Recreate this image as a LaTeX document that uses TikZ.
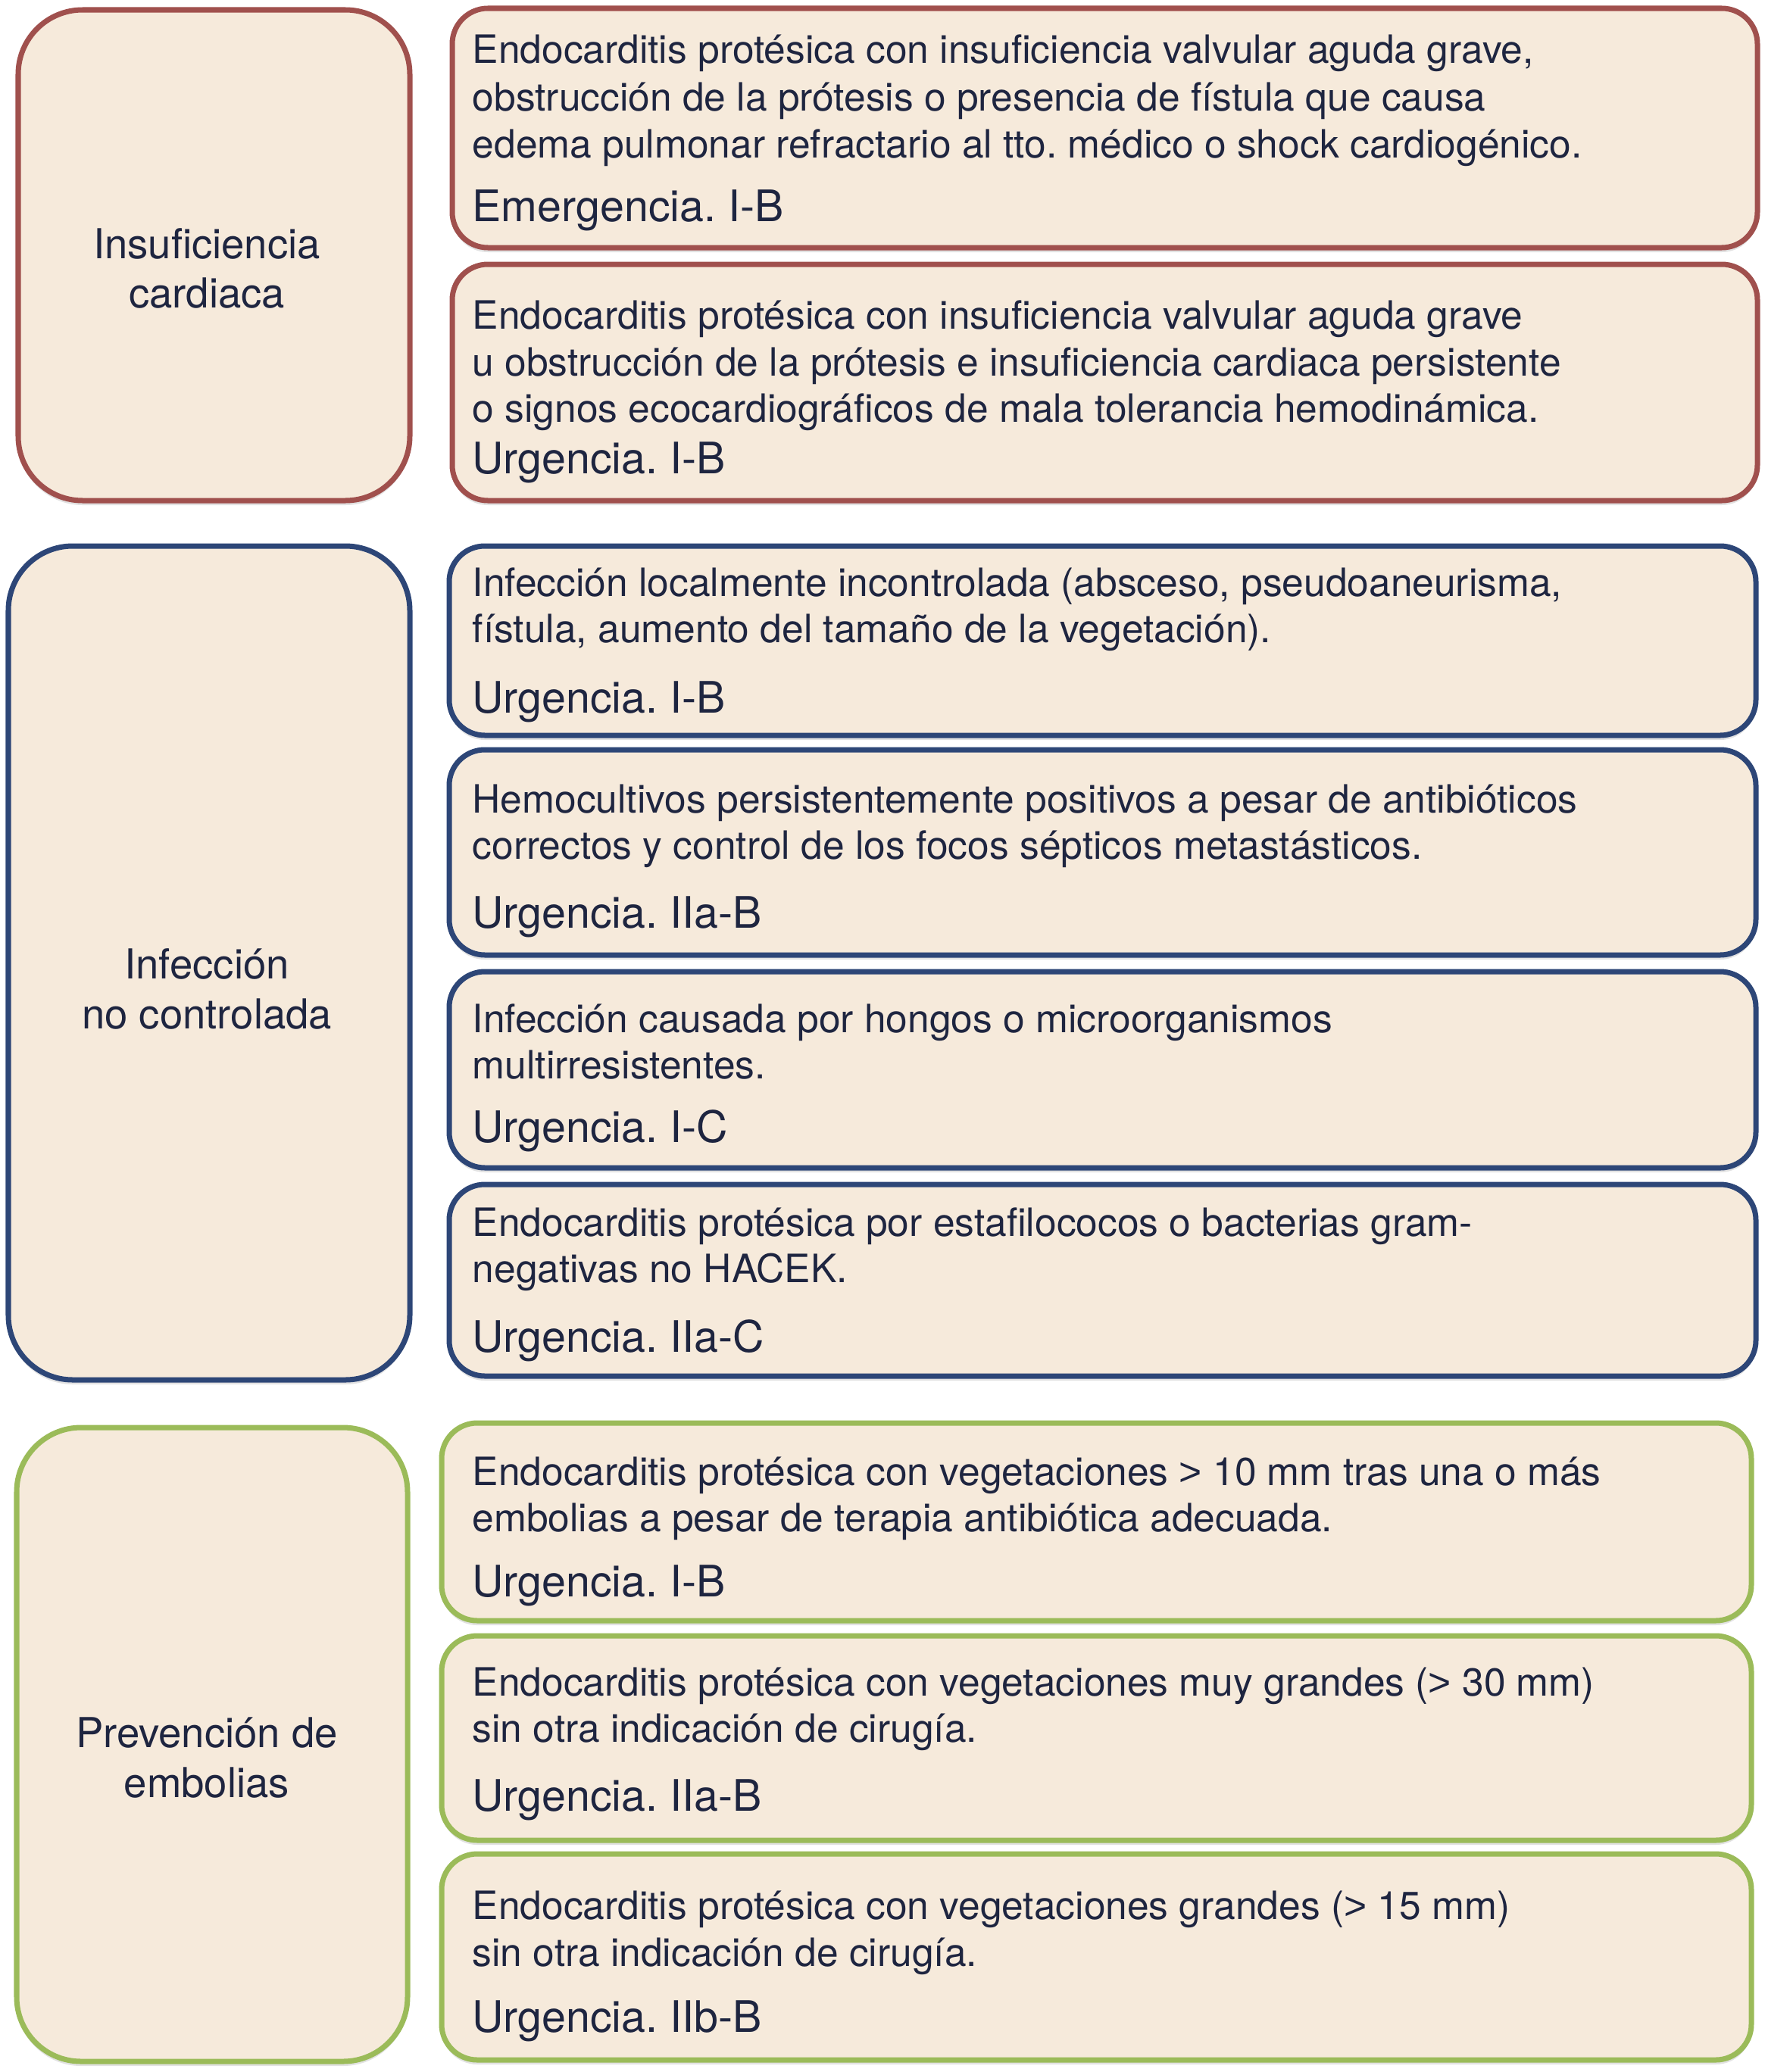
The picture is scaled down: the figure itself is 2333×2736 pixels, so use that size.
\documentclass[tikz,border=0pt]{standalone}
\usepackage{fontspec}
\setmainfont{TeX Gyre Heros}
\newfontfamily\gtfont{Liberation Sans}
\newcommand{\gtsym}{{\gtfont >}}
\usetikzlibrary{shadows,fit}
\definecolor{boxfill}{HTML}{F6EADB}
\definecolor{redc}{HTML}{A0504D}
\definecolor{bluec}{HTML}{2D4677}
\definecolor{greenc}{HTML}{9BBB59}
\definecolor{textc}{HTML}{1E2540}
\tikzset{
  basebox/.style={draw, line width=0.07cm, fill=boxfill, inner sep=0pt, outer sep=0pt,
    drop shadow={shadow xshift=0cm, shadow yshift=-0.06cm, opacity=0.25, fill=black!45}},
  catbox/.style={basebox, rounded corners=0.85cm},
  itembox/.style={basebox, rounded corners=0.47cm},
  bodytxt/.style={anchor=base west, inner sep=0pt, text=textc, font=\fontsize{14.65}{17}\selectfont},
  gradetxt/.style={anchor=base west, inner sep=0pt, text=textc, font=\fontsize{16.3}{19}\selectfont},
  cattxt/.style={anchor=base, inner sep=0pt, text=textc, font=\fontsize{15.5}{18}\selectfont},
}
\begin{document}
\frenchspacing
\begin{tikzpicture}[x=0.01cm,y=-0.01cm]
\useasboundingbox[fill=white] (0,0) rectangle (2333,2736);

% ---------- Insuficiencia cardiaca ----------
\node[catbox, draw=redc, fit={(24,13) (541,661)}] (L1) {};
\node[cattxt] (L1a) at (273,341) {Insuficiencia};
\node[cattxt] (L1b) at (273,406) {cardiaca};

\node[itembox, draw=redc, fit={(597,11) (2320,327)}] (R1) {};
\node[bodytxt] (R1a) at (623,83) {Endocarditis protésica con insuficiencia valvular aguda grave,};
\node[bodytxt] (R1b) at (623,146) {obstrucción de la prótesis o presencia de fístula que causa};
\node[bodytxt] (R1c) at (623,208) {edema pulmonar refractario al tto. médico o shock cardiogénico.};
\node[gradetxt] (R1d) at (623,292) {Emergencia. I-B};

\node[itembox, draw=redc, fit={(597,349) (2320,661)}] (R2) {};
\node[bodytxt] (R2a) at (623,434) {Endocarditis protésica con insuficiencia valvular aguda grave};
\node[bodytxt] (R2b) at (623,496) {u obstrucción de la prótesis e insuficiencia cardiaca persistente};
\node[bodytxt] (R2c) at (623,557) {o signos ecocardiográficos de mala tolerancia hemodinámica.};
\node[gradetxt] (R2d) at (623,625) {Urgencia. I-B};

% ---------- Infección no controlada ----------
\node[catbox, draw=bluec, fit={(11,721) (541,1822)}] (L2) {};
\node[cattxt] (L2a) at (273,1292) {Infección};
\node[cattxt] (L2b) at (273,1358) {no controlada};

\node[itembox, draw=bluec, fit={(593,721) (2318,971)}] (B1) {};
\node[bodytxt] (B1a) at (623,787) {Infección localmente incontrolada (absceso, pseudoaneurisma,};
\node[bodytxt] (B1b) at (623,848) {fístula, aumento del tamaño de la vegetación).};
\node[gradetxt] (B1c) at (623,941) {Urgencia. I-B};

\node[itembox, draw=bluec, fit={(593,990) (2318,1261)}] (B2) {};
\node[bodytxt] (B2a) at (623,1073) {Hemocultivos persistentemente positivos a pesar de antibióticos};
\node[bodytxt] (B2b) at (623,1134) {correctos y control de los focos sépticos metastásticos.};
\node[gradetxt] (B2c) at (623,1225) {Urgencia. IIa-B};

\node[itembox, draw=bluec, fit={(593,1283) (2318,1542)}] (B3) {};
\node[bodytxt] (B3a) at (623,1363) {Infección causada por hongos o microorganismos};
\node[bodytxt] (B3b) at (623,1424) {multirresistentes.};
\node[gradetxt] (B3c) at (623,1508) {Urgencia. I-C};

\node[itembox, draw=bluec, fit={(593,1564) (2318,1817)}] (B4) {};
\node[bodytxt] (B4a) at (623,1632) {Endocarditis protésica por estafilococos o bacterias gram-};
\node[bodytxt] (B4b) at (623,1693) {negativas no HACEK.};
\node[gradetxt] (B4c) at (623,1785) {Urgencia. IIa-C};

% ---------- Prevención de embolias ----------
\node[catbox, draw=greenc, fit={(22,1885) (538,2722)}] (L3) {};
\node[cattxt] (L3a) at (273,2307) {Prevención de};
\node[cattxt] (L3b) at (273,2373) {embolias};

\node[itembox, draw=greenc, fit={(583,1879) (2312,2140)}] (G1) {};
\node[bodytxt] (G1a) at (623,1961) {Endocarditis protésica con vegetaciones \gtsym{} 10 mm tras una o más};
\node[bodytxt] (G1b) at (623,2022) {embolias a pesar de terapia antibiótica adecuada.};
\node[gradetxt] (G1c) at (623,2108) {Urgencia. I-B};

\node[itembox, draw=greenc, fit={(583,2160) (2312,2430)}] (G2) {};
\node[bodytxt] (G2a) at (623,2239) {Endocarditis protésica con vegetaciones muy grandes (\gtsym{} 30 mm)};
\node[bodytxt] (G2b) at (623,2300) {sin otra indicación de cirugía.};
\node[gradetxt] (G2c) at (623,2391) {Urgencia. IIa-B};

\node[itembox, draw=greenc, fit={(583,2448) (2312,2720)}] (G3) {};
\node[bodytxt] (G3a) at (623,2534) {Endocarditis protésica con vegetaciones grandes (\gtsym{} 15 mm)};
\node[bodytxt] (G3b) at (623,2596) {sin otra indicación de cirugía.};
\node[gradetxt] (G3c) at (623,2683) {Urgencia. IIb-B};
\end{tikzpicture}
\end{document}
